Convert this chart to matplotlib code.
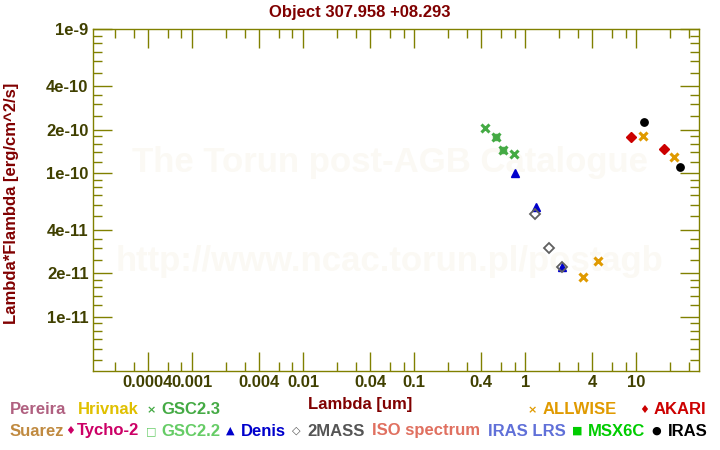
import matplotlib
matplotlib.use("Agg")
import matplotlib.pyplot as plt
from matplotlib.ticker import FixedLocator, FixedFormatter, NullFormatter

plt.rcParams["font.family"] = ["Liberation Sans", "DejaVu Sans"]

# photometry: wavelength [um] and lambda*F_lambda [erg/cm^2/s]
title = "Object 307.958 +08.293"
gsc23_wl = [0.436, 0.548, 0.634, 0.796]
gsc23_flux = [2.05e-10, 1.77e-10, 1.44e-10, 1.35e-10]
gsc22_wl = [0.548, 0.634]
gsc22_flux = [1.77e-10, 1.44e-10]
denis_wl = [0.813, 1.248, 2.14]
denis_flux = [9.95e-11, 5.77e-11, 2.21e-11]
tmass_wl = [1.23, 1.645, 2.14]
tmass_flux = [5.16e-11, 2.99e-11, 2.21e-11]
allwise_wl = [3.33, 4.54, 11.56, 22.0]
allwise_flux = [1.88e-11, 2.44e-11, 1.80e-10, 1.29e-10]
akari_wl = [9.02, 17.9]
akari_flux = [1.77e-10, 1.46e-10]
iras_wl = [11.8, 24.9]
iras_flux = [2.25e-10, 1.10e-10]

x_ticks = [4e-4, 1e-3, 4e-3, 1e-2, 4e-2, 0.1, 0.4, 1, 4, 10]
x_labels = ["0.0004", "0.001", "0.004", "0.01", "0.04", "0.1", "0.4", "1", "4", "10"]
y_ticks = [1e-11, 2e-11, 4e-11, 1e-10, 2e-10, 4e-10, 1e-9]
y_labels = ["1e-11", "2e-11", "4e-11", "1e-10", "2e-10", "4e-10", "1e-9"]

# catalogue key: (name, colour, symbol)
key_row1 = [("Pereira", "#b06080", None), ("Hrivnak", "#e0c000", None),
            ("GSC2.3", "#44aa44", "\u00d7"), ("ALLWISE", "#e09a00", "\u00d7"),
            ("AKARI", "#cc0000", "\u2666")]
key_row2 = [("Suarez", "#c08a40", None), ("Tycho-2", "#cc0066", "\u2666"),
            ("GSC2.2", "#66cc66", "\u25a1"), ("Denis", "#0000cc", "\u25b2"),
            ("2MASS", "#555555", "\u25c7"), ("ISO spectrum", "#e07060", None),
            ("IRAS LRS", "#6070d8", None), ("MSX6C", "#00cc00", "\u25a0"),
            ("IRAS", "#000000", "\u25cf")]
# x pixel of symbol and of text for each key entry
key_row1_x = [(None, 10), (None, 78), (147, 161), (528, 543), (639, 654)]
key_row2_x = [(None, 10), (65, 77), (146, 161), (226, 241), (292, 307),
              (None, 372), (None, 488), (572, 588), (651, 668)]

W, H = 720, 450
olive = "#808000"
tick_col = "#404000"
dark_red = "#800000"


def fx(x):
    return x / W


def fy(y):
    return 1 - y / H


fig = plt.figure(figsize=(7.2, 4.5), dpi=100)
ax = fig.add_axes([fx(92.7), fy(371.3), (699.3 - 92.7) / W, (371.3 - 29.3) / H])
ax.set_xscale("log")
ax.set_yscale("log")
ax.set_xlim(1.27e-4, 36.9)
ax.set_ylim(4.17e-12, 1e-9)

# watermark
ax.text(0.49, 0.61, "The Torun post-AGB Catalogue", transform=ax.transAxes,
        fontsize=25, fontweight="bold", color="#fbf9f4", ha="center", va="center", zorder=0)
ax.text(0.49, 0.32, "http://www.ncac.torun.pl/postagb", transform=ax.transAxes,
        fontsize=25, fontweight="bold", color="#fbf9f4", ha="center", va="center", zorder=0)

ax.plot(gsc22_wl, gsc22_flux, "s", ls="none", color="#55b055", ms=5, zorder=3)
ax.plot(gsc23_wl, gsc23_flux, "x", ls="none", color="#44aa44", ms=5.5, mew=2.2, zorder=4)
ax.plot(denis_wl, denis_flux, "^", ls="none", color="#0000cc", ms=6, zorder=3)
ax.plot(tmass_wl, tmass_flux, "D", ls="none", mfc="none", mec="#606060", ms=5, mew=1.3, zorder=4)
ax.plot(allwise_wl, allwise_flux, "x", ls="none", color="#e09a00", ms=5.5, mew=2.2, zorder=3)
ax.plot(akari_wl, akari_flux, "D", ls="none", color="#cc0000", ms=5.3, zorder=3)
ax.plot(iras_wl, iras_flux, "o", ls="none", color="#000000", ms=5.3, zorder=3)

ax.xaxis.set_major_locator(FixedLocator(x_ticks))
ax.xaxis.set_major_formatter(FixedFormatter(x_labels))
ax.xaxis.set_minor_locator(FixedLocator([m * 10.0 ** e for e in range(-4, 2) for m in (2, 3, 6, 8)]))
ax.yaxis.set_major_locator(FixedLocator(y_ticks))
ax.yaxis.set_major_formatter(FixedFormatter(y_labels))
ax.yaxis.set_minor_locator(FixedLocator(
    [m * 10.0 ** e for e in range(-12, -9)
     for m in (1.2, 1.4, 1.6, 1.8, 2.5, 3, 3.5, 5, 6, 7, 8, 9)]))
ax.xaxis.set_minor_formatter(NullFormatter())
ax.yaxis.set_minor_formatter(NullFormatter())

ax.tick_params(which="both", direction="in", top=True, right=True, color=olive, width=1,
               labelcolor=tick_col, labelsize=12, pad=3)
ax.tick_params(which="major", length=13.5)
ax.tick_params(which="minor", length=6.7)
for lab in ax.get_xticklabels() + ax.get_yticklabels():
    lab.set_fontweight("bold")
for sp in ax.spines.values():
    sp.set_color(olive)
    sp.set_linewidth(1)

fig.text(0.5, fy(12.5), title, ha="center", va="center", fontsize=12,
         fontweight="bold", color=dark_red)
fig.text(0.5, fy(404), "Lambda [um]", ha="center", va="center", fontsize=12,
         fontweight="bold", color=dark_red)
fig.text(fx(11.5), fy(203), "Lambda*Flambda [erg/cm^2/s]", ha="center", va="center",
         rotation=90, fontsize=12, fontweight="bold", color=dark_red)

for entries, xs, ypx in ((key_row1, key_row1_x, 410), (key_row2, key_row2_x, 431)):
    for (name, col, sym), (xs_sym, xs_txt) in zip(entries, xs):
        if sym:
            fig.text(fx(xs_sym), fy(ypx), sym, ha="left", va="center", fontsize=8,
                     color=col, family="DejaVu Sans", fontweight="bold")
        fig.text(fx(xs_txt), fy(ypx), name, ha="left", va="center", fontsize=12,
                 fontweight="bold", color=col)

fig.savefig("out.png", dpi=100)
